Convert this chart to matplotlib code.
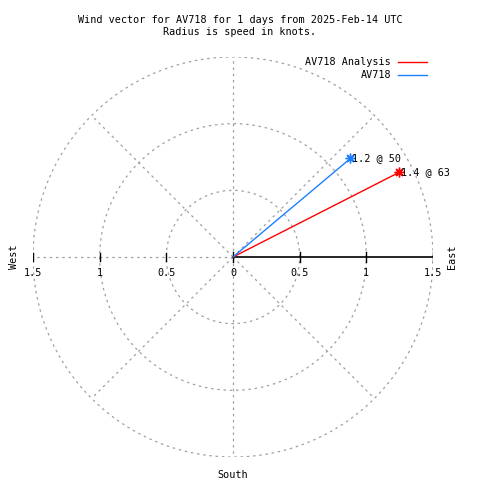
import numpy as np
import matplotlib
matplotlib.use("Agg")
import matplotlib.pyplot as plt

# data
series = ["AV718 Analysis", "AV718"]
speeds = [1.4, 1.15]          # knots
directions = [63, 50]         # degrees, clockwise from north
point_labels = ["1.4 @ 63", "1.2 @ 50"]
colors = ["#ff0000", "#1a80ff"]
rings = [0.5, 1.0, 1.5]
tick_labels = ["0", "0.5", "1", "1.5"]

rmax = 1.5
grid_style = dict(color="#a0a0a0", lw=0.9, ls=(0, (2, 3)))
font = dict(family="DejaVu Sans Mono", fontsize=7.3)

fig = plt.figure(figsize=(4.8, 4.8), dpi=100)
ax = fig.add_axes([33 / 480, 23 / 480, 400 / 480, 400 / 480])
ax.set_xlim(-rmax, rmax)
ax.set_ylim(-rmax, rmax)
ax.set_aspect("equal")
ax.axis("off")

# grid circles
t = np.linspace(0, 2 * np.pi, 400)
for r in rings:
    ax.plot(r * np.cos(t), r * np.sin(t), **grid_style)

# radial grid lines every 45 deg (east is drawn solid below)
for a in range(45, 360, 45):
    ar = np.radians(a)
    ax.plot([0, rmax * np.cos(ar)], [0, rmax * np.sin(ar)], **grid_style)

# east axis with ticks
ax.plot([0, rmax], [0, 0], color="black", lw=1.2)
tick_vals = [0] + rings
for v, lab in zip(tick_vals, tick_labels):
    ax.plot([v, v], [-0.04, 0.04], color="black", lw=1)
    ax.text(v, -0.085, lab, ha="center", va="top", **font)
    if v > 0:
        ax.plot([-v, -v], [-0.03, 0.03], color="black", lw=1)
        ax.text(-v, -0.085, lab, ha="center", va="top", **font)

# compass labels
ax.text(-rmax - 0.14, 0, "West", rotation=90, ha="center", va="center", **font)
ax.text(rmax + 0.14, 0, "East", rotation=90, ha="center", va="center", **font)
ax.text(0, -rmax - 0.1, "South", ha="center", va="top", **font)

# wind vectors
for name, s, d, lab, c in zip(series, speeds, directions, point_labels, colors):
    th = np.radians(90 - d)
    x, y = s * np.cos(th), s * np.sin(th)
    ax.plot([0, x], [0, y], color=c, lw=1, label=name)
    ax.plot([x], [y], marker=(8, 2, 0), ms=7, color=c, mew=1)
    ax.text(x + 0.01, y, lab, ha="left", va="center", **font)

# legend drawn by hand, gnuplot style
for i, (name, c) in enumerate(zip(series, colors)):
    yf = 1 - (62 + 13 * i) / 480
    fig.text(391 / 480, yf, name, ha="right", va="center", **font)
    fig.add_artist(plt.Line2D([398 / 480, 427 / 480], [yf, yf], color=c, lw=1))

fig.text(240 / 480, 1 - 20 / 480,
         "Wind vector for AV718 for 1 days from 2025-Feb-14 UTC",
         ha="center", va="center", **font)
fig.text(240 / 480, 1 - 32 / 480, "Radius is speed in knots.",
         ha="center", va="center", **font)

fig.savefig("out.png", dpi=100)
